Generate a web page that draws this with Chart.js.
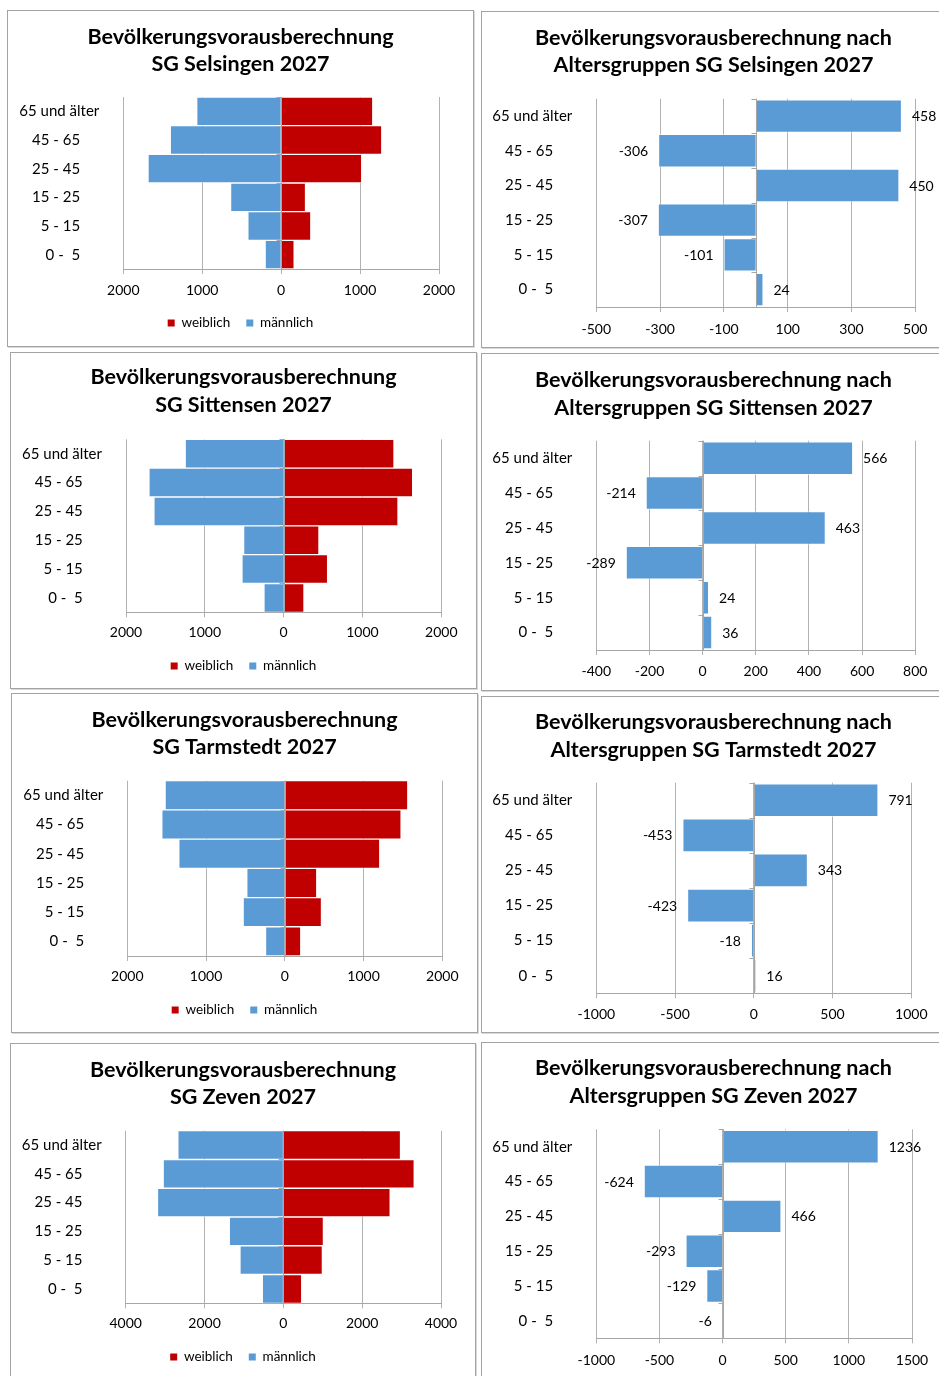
<!DOCTYPE html>
<html lang="de">
<head>
<meta charset="utf-8">
<title>Bevölkerungsvorausberechnung 2027</title>
<script src="https://cdn.jsdelivr.net/npm/chart.js@4.4.1/dist/chart.umd.min.js"></script>
<style>
  html, body { margin: 0; padding: 0; background: #ffffff; }
  body { position: relative; width: 939px; height: 1376px; overflow: hidden; }
  .panel {
    position: absolute;
    box-sizing: border-box;
    border: 1px solid #a3a3a3;
    box-shadow: 1px 1px 0 #d9d9d9;
    background: #ffffff;
  }
  .panel canvas { position: absolute; left: 0; top: 0; }
</style>
</head>
<body>
<script>
// ---- Altersgruppen (von oben nach unten) ----
const ageGroups = ['65 und älter', '45 - 65', '25 - 45', '15 - 25', '5 - 15', '0 -  5'];

// ---- Bevölkerung 2027 nach Geschlecht (Personen) ----
const selsingenWeiblich  = [1161, 1275, 1021, 309, 376, 165];
const selsingenMaennlich = [1070, 1405, 1687, 641, 422, 203];
const sittensenWeiblich  = [1400, 1637, 1451, 448, 558, 258];
const sittensenMaennlich = [1249, 1709, 1646, 508, 529, 250];
const tarmstedtWeiblich  = [1562, 1477, 1206, 406, 466, 203];
const tarmstedtMaennlich = [1520, 1562, 1346, 483, 529, 245];
const zevenWeiblich      = [2973, 3321, 2711, 1017, 991, 466];
const zevenMaennlich     = [2677, 3049, 3194, 1372, 1101, 534];

// ---- Veränderung nach Altersgruppen ----
const selsingenAenderung = [458, -306, 450, -307, -101, 24];
const sittensenAenderung = [566, -214, 463, -289, 24, 36];
const tarmstedtAenderung = [791, -453, 343, -423, -18, 16];
const zevenAenderung     = [1236, -624, 466, -293, -129, -6];

// ---- Achsenwerte der x-Achsen ----
const pyramidTicks      = [-2000, -1000, 0, 1000, 2000];
const zevenPyramidTicks = [-4000, -2000, 0, 2000, 4000];
const selsingenTicks    = [-500, -300, -100, 100, 300, 500];
const sittensenTicks    = [-400, -200, 0, 200, 400, 600, 800];
const tarmstedtTicks    = [-1000, -500, 0, 500, 1000];
const zevenTicks        = [-1000, -500, 0, 500, 1000, 1500];

// ---- Titel und Legende ----
const seriesNames = ['weiblich', 'männlich'];
const pyramidTitle = (sg) => ['Bevölkerungsvorausberechnung', 'SG ' + sg + ' 2027'];
const changeTitle  = (sg) => ['Bevölkerungsvorausberechnung nach', 'Altersgruppen SG ' + sg + ' 2027'];

// ---- Gestaltung ----
const FONT = 'Lato, "Open Sans", "DejaVu Sans", sans-serif';
const BLUE = '#5B9BD5';
const RED = '#C00000';
const BAR_EDGE = 'rgba(255,255,255,0.6)';
const GRID = '#b2b2b2';
const AXIS = '#a6a6a6';
const TEXT = '#000000';
const TITLE_SIZE = 21.5;
const TITLE_LH = 27.5;
const TICK_SIZE = 14;
const CAT_SIZE = 15;
const TICK_LEN = 5;
const LEG_SIZE = 13.5;
const LEG_PAD = 16;
const SIDE_PAD = 4;        // äußerer Rand links/rechts
const LABEL_PAD = 24;      // Abstand Beschriftung -> Diagrammfläche
const LABEL_INDENT = 18.5; // kürzere Beschriftungen enden weiter links

Chart.defaults.font.family = FONT;
Chart.defaults.color = TEXT;

// Panel-Rahmen [links, oben, breite, höhe] und Diagrammfläche [links, oben, rechts, unten]
const frames = {
  selsingenPyr:  { box: [7, 10, 467, 337],    plot: [123.3, 97, 439, 269],        title: 37,    tick: 290,   legend: 323 },
  selsingenChg:  { box: [481, 11, 465, 337],  plot: [596.3, 98.7, 915.3, 307],    title: 38,    tick: 329 },
  sittensenPyr:  { box: [10, 352, 467, 337],  plot: [126, 439.3, 441.3, 612.3],   title: 377.5, tick: 632,   legend: 666 },
  sittensenChg:  { box: [481, 353, 465, 338], plot: [596.3, 440.7, 915.3, 650],   title: 380.5, tick: 671 },
  tarmstedtPyr:  { box: [11, 693, 467, 340],  plot: [127.3, 780.7, 442.3, 956],   title: 720,   tick: 976.7, legend: 1010 },
  tarmstedtChg:  { box: [481, 696, 465, 337], plot: [596.3, 782.7, 911.3, 993.3], title: 722.5, tick: 1014 },
  zevenPyr:      { box: [10, 1043, 466, 337], plot: [125.7, 1130.7, 441, 1303.3], title: 1069.7, tick: 1323.7, legend: 1357 },
  zevenChg:      { box: [481, 1042, 465, 337],plot: [596.3, 1129.3, 912, 1338.3], title: 1068.3, tick: 1360 }
};

function computeLayout(f) {
  const [bx, by, bw, bh] = f.box;
  const cx = bx + 1, cy = by + 1, W = bw - 2, H = bh - 2;
  const left = f.plot[0] - cx, top = f.plot[1] - cy, right = f.plot[2] - cx, bottom = f.plot[3] - cy;
  const yAxisW = left - SIDE_PAD;
  const rightW = W - right - SIDE_PAD;
  const titleTop = (f.title - cy) - TITLE_LH / 2;
  const titleBottom = top - titleTop - 2 * TITLE_LH;
  let padBottom, xAxisH;
  if (f.legend !== undefined) {
    const legH = LEG_SIZE + LEG_PAD + 10;
    const legTop = (f.legend - cy) - LEG_PAD - LEG_SIZE / 2;
    padBottom = H - legTop - legH;
    xAxisH = legTop - bottom;
  } else {
    padBottom = 2;
    xAxisH = H - padBottom - bottom;
  }
  const tickPad = (f.tick - f.plot[3]) - TICK_LEN - TICK_SIZE * 1.2 / 2;
  return { W, H, yAxisW, rightW, titleTop, titleBottom, padBottom, xAxisH, tickPad };
}

function makeCanvas(f, L) {
  const div = document.createElement('div');
  div.className = 'panel';
  div.style.left = f.box[0] + 'px';
  div.style.top = f.box[1] + 'px';
  div.style.width = f.box[2] + 'px';
  div.style.height = f.box[3] + 'px';
  const canvas = document.createElement('canvas');
  canvas.width = L.W;
  canvas.height = L.H;
  canvas.style.width = L.W + 'px';
  canvas.style.height = L.H + 'px';
  div.appendChild(canvas);
  document.body.appendChild(div);
  return canvas;
}

// Kategorienbeschriftung: rechtsbündig, kürzere Texte etwas eingerückt
const measureCtx = document.createElement('canvas').getContext('2d');
measureCtx.font = CAT_SIZE + 'px ' + FONT;
const spaceW = measureCtx.measureText('          ').width / 10;
const indent = ' '.repeat(Math.max(0, Math.round(LABEL_INDENT / spaceW)));
const categoryLabel = (i) => (i === 0 ? ageGroups[i] : ageGroups[i] + indent);

// senkrechte Achse bei 0 mit Teilstrichen zwischen den Altersgruppen
const zeroAxis = {
  id: 'zeroAxis',
  afterDatasetsDraw(chart) {
    const { ctx, chartArea, scales: { x, y } } = chart;
    const px = Math.round(x.getPixelForValue(0)) + 0.5;
    ctx.save();
    ctx.strokeStyle = AXIS;
    ctx.lineWidth = 1;
    ctx.beginPath();
    ctx.moveTo(px, chartArea.top);
    ctx.lineTo(px, chartArea.bottom);
    const n = chart.data.labels.length;
    for (let i = 0; i <= n; i++) {
      const yy = Math.round(y.getPixelForValue(i - 0.5)) + 0.5;
      ctx.moveTo(px - 5, yy);
      ctx.lineTo(px, yy);
    }
    ctx.stroke();
    ctx.restore();
  }
};

// Datenbeschriftung außerhalb des Balkenendes
const valueLabels = {
  id: 'valueLabels',
  afterDatasetsDraw(chart) {
    const { ctx } = chart;
    const values = chart.data.datasets[0].data;
    const meta = chart.getDatasetMeta(0);
    ctx.save();
    ctx.font = TICK_SIZE + 'px ' + FONT;
    ctx.fillStyle = TEXT;
    ctx.textBaseline = 'middle';
    meta.data.forEach((bar, i) => {
      const v = values[i];
      const { x, y } = bar.getProps(['x', 'y'], true);
      if (v < 0) {
        ctx.textAlign = 'right';
        ctx.fillText(String(v), x - 10, y + 0.5);
      } else {
        ctx.textAlign = 'left';
        ctx.fillText(String(v), x + 10, y + 0.5);
      }
    });
    ctx.restore();
  }
};

function xScale(L, ticks, labelFn) {
  return {
    type: 'linear',
    min: ticks[0],
    max: ticks[ticks.length - 1],
    stacked: true,
    afterBuildTicks: (s) => { s.ticks = ticks.map((v) => ({ value: v })); },
    afterFit: (s) => { s.height = L.xAxisH; },
    grid: { color: GRID, lineWidth: 1, drawTicks: true, tickLength: TICK_LEN, tickColor: GRID },
    border: { display: true, color: AXIS, width: 1 },
    ticks: {
      font: { size: TICK_SIZE },
      color: TEXT,
      padding: L.tickPad,
      autoSkip: false,
      maxRotation: 0,
      callback: labelFn
    }
  };
}

function yScale(L) {
  return {
    type: 'category',
    stacked: true,
    afterFit: (s) => { s.width = L.yAxisW; },
    grid: { display: false, drawTicks: false },
    border: { display: false },
    ticks: {
      font: { size: CAT_SIZE },
      color: TEXT,
      padding: LABEL_PAD,
      autoSkip: false,
      callback: (v, i) => categoryLabel(i)
    }
  };
}

// leerer Rand rechts der Diagrammfläche
function rightMargin(L) {
  return {
    type: 'category',
    position: 'right',
    afterFit: (s) => { s.width = L.rightW; },
    grid: { display: false, drawTicks: false },
    border: { display: false },
    ticks: { display: false }
  };
}

function titleOptions(L, text) {
  return {
    display: true,
    text: text,
    color: '#000000',
    font: { size: TITLE_SIZE, weight: 'bold', lineHeight: TITLE_LH / TITLE_SIZE },
    padding: { top: L.titleTop, bottom: L.titleBottom }
  };
}

function pyramid(frameKey, sg, weiblich, maennlich, ticks) {
  const f = frames[frameKey];
  const L = computeLayout(f);
  const canvas = makeCanvas(f, L);
  return new Chart(canvas, {
    type: 'bar',
    data: {
      labels: ageGroups,
      datasets: [
        { label: seriesNames[0], data: weiblich, backgroundColor: RED, borderColor: BAR_EDGE, borderWidth: 1,
          barPercentage: 1, categoryPercentage: 1 },
        { label: seriesNames[1], data: maennlich.map((v) => -v), backgroundColor: BLUE, borderColor: BAR_EDGE, borderWidth: 1,
          barPercentage: 1, categoryPercentage: 1 }
      ]
    },
    options: {
      indexAxis: 'y',
      responsive: false,
      animation: false,
      devicePixelRatio: 1,
      layout: { padding: { left: SIDE_PAD, right: SIDE_PAD, top: 0, bottom: L.padBottom } },
      scales: {
        x: xScale(L, ticks, (v) => String(Math.abs(v))),
        y: yScale(L),
        rand: rightMargin(L)
      },
      plugins: {
        title: titleOptions(L, pyramidTitle(sg)),
        legend: {
          display: true,
          position: 'bottom',
          labels: {
            boxWidth: 7,
            boxHeight: 7,
            padding: LEG_PAD,
            color: TEXT,
            font: { size: LEG_SIZE },
            generateLabels: (chart) =>
              Chart.defaults.plugins.legend.labels.generateLabels(chart).map((l) => Object.assign(l, { lineWidth: 0 }))
          }
        },
        tooltip: { enabled: false }
      }
    },
    plugins: [zeroAxis]
  });
}

function change(frameKey, sg, values, ticks) {
  const f = frames[frameKey];
  const L = computeLayout(f);
  const canvas = makeCanvas(f, L);
  return new Chart(canvas, {
    type: 'bar',
    data: {
      labels: ageGroups,
      datasets: [
        { label: 'Veränderung', data: values, backgroundColor: BLUE, borderColor: BAR_EDGE, borderWidth: 1,
          barPercentage: 0.96, categoryPercentage: 1 }
      ]
    },
    options: {
      indexAxis: 'y',
      responsive: false,
      animation: false,
      devicePixelRatio: 1,
      layout: { padding: { left: SIDE_PAD, right: SIDE_PAD, top: 0, bottom: L.padBottom } },
      scales: {
        x: xScale(L, ticks, (v) => String(v)),
        y: yScale(L),
        rand: rightMargin(L)
      },
      plugins: {
        title: titleOptions(L, changeTitle(sg)),
        legend: { display: false },
        tooltip: { enabled: false }
      }
    },
    plugins: [zeroAxis, valueLabels]
  });
}

pyramid('selsingenPyr', 'Selsingen', selsingenWeiblich, selsingenMaennlich, pyramidTicks);
change('selsingenChg', 'Selsingen', selsingenAenderung, selsingenTicks);
pyramid('sittensenPyr', 'Sittensen', sittensenWeiblich, sittensenMaennlich, pyramidTicks);
change('sittensenChg', 'Sittensen', sittensenAenderung, sittensenTicks);
pyramid('tarmstedtPyr', 'Tarmstedt', tarmstedtWeiblich, tarmstedtMaennlich, pyramidTicks);
change('tarmstedtChg', 'Tarmstedt', tarmstedtAenderung, tarmstedtTicks);
pyramid('zevenPyr', 'Zeven', zevenWeiblich, zevenMaennlich, zevenPyramidTicks);
change('zevenChg', 'Zeven', zevenAenderung, zevenTicks);
</script>
</body>
</html>
